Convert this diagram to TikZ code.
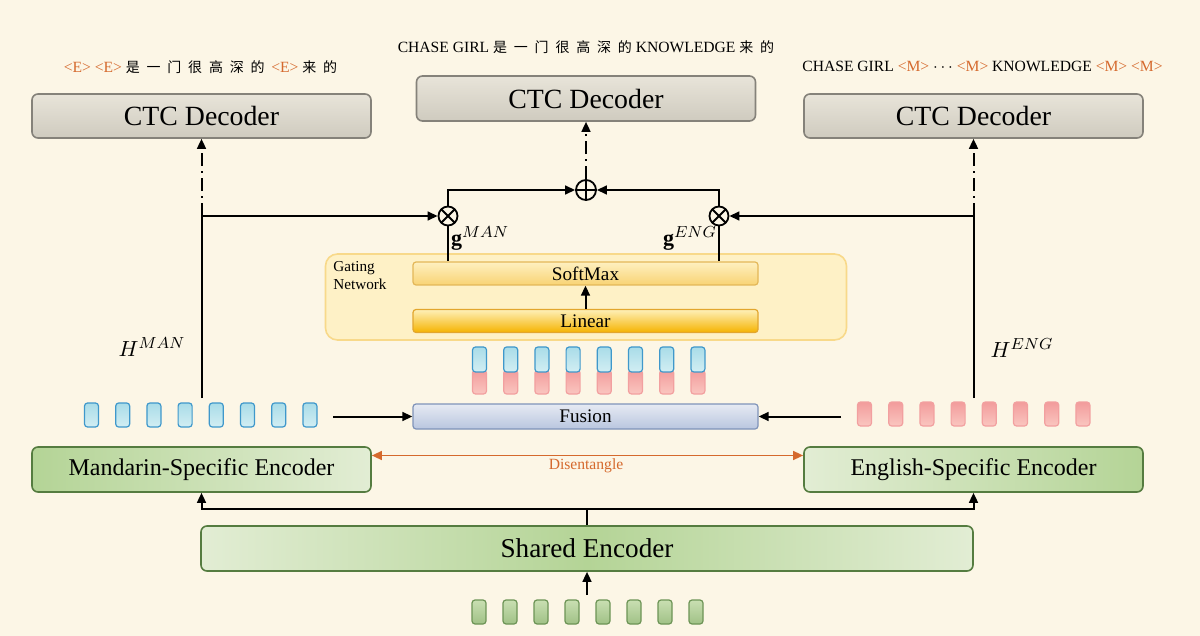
\documentclass[tikz,border=0pt]{standalone}
\usepackage{fontspec}
\setmainfont{Liberation Serif}
\newfontfamily\cjk{Noto Sans CJK SC}
\usetikzlibrary{arrows.meta,calc}
\definecolor{bg}{HTML}{FCF6E6}
\definecolor{orE}{HTML}{D5692D}
\definecolor{ctcT}{HTML}{E8E4D9}
\definecolor{ctcBo}{HTML}{CFCBBF}
\definecolor{ctcB}{HTML}{85827A}
\definecolor{gD}{HTML}{B4D496}
\definecolor{gL}{HTML}{E2EDD4}
\definecolor{gB}{HTML}{557C40}
\definecolor{gateF}{HTML}{FEF1C6}
\definecolor{gateB}{HTML}{F8D98A}
\definecolor{smT}{HTML}{FEF0C0}
\definecolor{smBo}{HTML}{F8D374}
\definecolor{smB}{HTML}{E3B758}
\definecolor{linT}{HTML}{FEF0B8}
\definecolor{linBo}{HTML}{F5B300}
\definecolor{linB}{HTML}{E2A62E}
\definecolor{fuT}{HTML}{E6EAF3}
\definecolor{fuBo}{HTML}{B9C6DF}
\definecolor{fuB}{HTML}{7F93B9}
\definecolor{vbT}{HTML}{A9DCE8}
\definecolor{vbBo}{HTML}{D2EEF3}
\definecolor{vbB}{HTML}{3F98CB}
\definecolor{vrT}{HTML}{F29C9C}
\definecolor{vrBo}{HTML}{FAC6C0}
\definecolor{vrB}{HTML}{F2A0A0}
\definecolor{vgT}{HTML}{C9DFB2}
\definecolor{vgBo}{HTML}{A0C186}
\definecolor{vgB}{HTML}{6D9456}
\newcommand{\zh}[1]{{\cjk\fontsize{7}{8}\selectfont #1}}
\newcommand{\zs}{\hspace{3.4pt}}
\newcommand{\ore}[1]{\textcolor{orE}{#1}}
\tikzset{
  ln/.style={line width=1pt},
  arr/.style={line width=1pt,-{Triangle[length=5pt,width=4.4pt]}},
  dd/.style={dash pattern=on 6.5pt off 2.5pt on 1pt off 2.5pt},
  ctc/.style={draw=ctcB, line width=0.8pt, rounded corners=3pt, top color=ctcT, bottom color=ctcBo,
    minimum width=169.5pt, minimum height=22pt, inner sep=0pt, font=\fontsize{13.9}{16}\selectfont},
  enc/.style={draw=gB, line width=0.8pt, rounded corners=3pt,
    minimum width=169.5pt, minimum height=22.5pt, inner sep=0pt, font=\fontsize{12}{14}\selectfont},
  shr/.style={draw=gB, line width=0.8pt, rounded corners=3pt, left color=gL, right color=gL, middle color=gD,
    minimum width=386pt, minimum height=22.5pt, inner sep=0pt, font=\fontsize{13.6}{16}\selectfont},
  gate/.style={draw=gateB, line width=0.8pt, fill=gateF, rounded corners=6pt,
    minimum width=260.5pt, minimum height=43pt, inner sep=0pt},
  smx/.style={draw=smB, line width=0.6pt, rounded corners=1.5pt, top color=smT, bottom color=smBo,
    minimum width=172.5pt, minimum height=11.5pt, inner sep=0pt, font=\fontsize{9.6}{11}\selectfont},
  lin/.style={draw=linB, line width=0.6pt, rounded corners=1.5pt, top color=linT, bottom color=linBo,
    minimum width=172.5pt, minimum height=11.5pt, inner sep=0pt, font=\fontsize{9.6}{11}\selectfont},
  fus/.style={draw=fuB, line width=0.6pt, rounded corners=1.5pt, top color=fuT, bottom color=fuBo,
    minimum width=172.5pt, minimum height=12.5pt, inner sep=0pt, font=\fontsize{9.6}{11}\selectfont},
  vec/.style={line width=0.6pt, rounded corners=1.5pt, minimum width=7pt, minimum height=12pt, inner sep=0pt},
  vblue/.style={vec, draw=vbB, top color=vbT, bottom color=vbBo},
  vred/.style={vec, draw=vrB, top color=vrT, bottom color=vrBo},
  vgreen/.style={vec, draw=vgB, top color=vgT, bottom color=vgBo},
  otm/.style={circle, draw, line width=0.9pt, fill=bg, minimum size=9.5pt, inner sep=0pt,
    path picture={\draw[line width=0.9pt] (path picture bounding box.north west) -- (path picture bounding box.south east)
      (path picture bounding box.north east) -- (path picture bounding box.south west);}},
  opl/.style={circle, draw, line width=0.9pt, fill=bg, minimum size=10pt, inner sep=0pt,
    path picture={\draw[line width=0.9pt] (path picture bounding box.north) -- (path picture bounding box.south)
      (path picture bounding box.east) -- (path picture bounding box.west);}},
  lbl/.style={inner sep=0pt, font=\fontsize{7.8}{9}\selectfont},
  mth/.style={inner sep=0pt, font=\fontsize{11}{13}\selectfont},
  dis/.style={line width=0.9pt, draw=orE, {Triangle[length=5pt,width=4.4pt]}-{Triangle[length=5pt,width=4.4pt]}}
}
\begin{document}
\begin{tikzpicture}[x=0.5pt,y=-0.5pt]
\fill[bg] (0,0) rectangle (1200,636);
\useasboundingbox (0,0) rectangle (1200,636);

% decoders
\node[ctc] (ctcL) at (201.5,116) {CTC Decoder};
\node[ctc, minimum height=22.5pt] (ctcM) at (586,98.5) {CTC Decoder};
\node[ctc] (ctcR) at (973.5,116) {CTC Decoder};

% output labels
\node[lbl] (labL) at (200.5,67) {\ore{<E>} \ore{<E>} \zh{是}\zs\zh{一}\zs\zh{门}\zs\zh{很}\zs\zh{高}\zs\zh{深}\zs\zh{的}\zs\ore{<E>} \zh{来}\zs\zh{的}};
\node[lbl] (labM) at (586,47) {CHASE GIRL \zh{是}\zs\zh{一}\zs\zh{门}\zs\zh{很}\zs\zh{高}\zs\zh{深}\zs\zh{的} KNOWLEDGE \zh{来}\zs\zh{的}};
\node[lbl] (labR) at (982.5,66) {CHASE GIRL \ore{<M>} $\cdots$ \ore{<M>} KNOWLEDGE \ore{<M>} \ore{<M>}};

% gating network
\node[gate] (gate) at (586,297) {};
\node[inner sep=0pt, anchor=north west, align=left, font=\fontsize{7.6}{9}\selectfont] (gatelbl) at (333,261) {Gating\\Network};
\node[smx] (sm) at (585.5,273.5) {SoftMax};
\node[lin] (lin) at (585.5,321) {Linear};

\node[otm] (otL) at (448,216) {};
\node[otm] (otR) at (719,216) {};
\node[opl] (op) at (586,190) {};

\node[mth] (gman) at (480,238) {$\mathbf{g}^{MAN}$};
\node[mth] (geng) at (690,238) {$\mathbf{g}^{ENG}$};

% fusion
\node[fus] (fus) at (585.5,416.5) {Fusion};

% vectors
\foreach \i in {0,...,7} {
  \node[vblue] (vL\i) at ({91.5+31.2*\i},415) {};
  \node[vred] (vR\i) at ({864.5+31.2*\i},414) {};
  \node[vgreen] (vI\i) at ({479+31*\i},612) {};
  \node[vred, minimum height=12pt] (vMr\i) at ({479.5+31.2*\i},382) {};
  \node[vblue, minimum height=12.5pt] (vMb\i) at ({479.5+31.2*\i},359.5) {};
}

% encoders
\node[enc, left color=gD, right color=gL] (man) at (201.5,469.5) {Mandarin-Specific Encoder};
\node[enc, left color=gL, right color=gD] (eng) at (973.5,469.5) {English-Specific Encoder};
\node[shr] (sh) at (587,548.5) {Shared Encoder};

\node[mth] (hman) at (152,347) {$H^{MAN}$};
\node[mth] (heng) at (1022,348) {$H^{ENG}$};

% disentangle
\draw[dis] ([yshift=7pt]man.east) -- ([yshift=7pt]eng.west);
\node[lbl, text=orE] (dlbl) at (586,466) {Disentangle};

% coordinates
\coordinate (lj) at (201.5,216);
\coordinate (ltop) at (201.5,398);
\coordinate (rj) at (973.5,216);
\coordinate (rtop) at (973.5,398);
\coordinate (la) at (333,416.5);
\coordinate (rb) at (841,416.5);
\coordinate (sj) at (587,509);
\coordinate (inp) at (587,595);

% connectors
\draw[ln] (ltop) -- (lj);
\draw[arr,dd] (lj) -- (ctcL.south);
\draw[arr] (lj) -- (otL.west);
\draw[ln] (rtop) -- (rj);
\draw[arr,dd] (rj) -- (ctcR.south);
\draw[arr] (rj) -- (otR.east);
\draw[arr] (otL.north) |- (op.west);
\draw[arr] (otR.north) |- (op.east);
\draw[ln] (otL.south) -- (otL.south |- sm.north);
\draw[ln] (otR.south) -- (otR.south |- sm.north);
\draw[arr,dd] (op.north) -- (ctcM.south);
\draw[arr] (lin.north) -- (sm.south);
\draw[arr] (la) -- (fus.west);
\draw[arr] (rb) -- (fus.east);
\draw[ln] (sh.north) -- (sj);
\draw[arr] (sj) -| (man.south);
\draw[arr] (sj) -| (eng.south);
\draw[arr] (inp) -- (sh.south);
\end{tikzpicture}
\end{document}
